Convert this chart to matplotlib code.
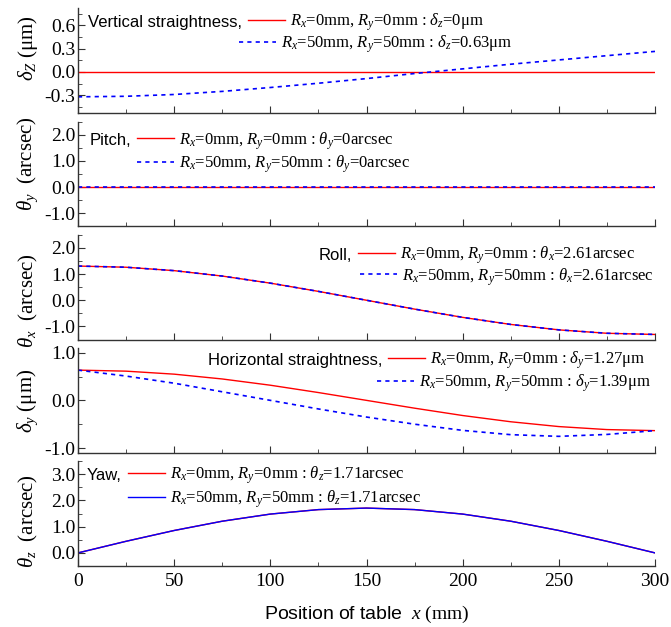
import matplotlib
matplotlib.use("Agg")
import matplotlib.pyplot as plt
from matplotlib.legend import Legend
from matplotlib.ticker import MultipleLocator, FormatStrFormatter

plt.rcParams['font.family'] = 'Liberation Serif'
plt.rcParams['mathtext.fontset'] = 'custom'
plt.rcParams['mathtext.rm'] = 'Liberation Serif'
plt.rcParams['mathtext.it'] = 'Liberation Serif:italic'
plt.rcParams['mathtext.sf'] = 'Liberation Sans'
plt.rcParams['axes.unicode_minus'] = False

# position of table x (mm)
x_pos = [0, 25, 50, 75, 100, 125, 150, 175, 200, 225, 250, 275, 300]

# vertical straightness (um)
vert_r0 = [0, 0, 0, 0, 0, 0, 0, 0, 0, 0, 0, 0, 0]
vert_r50 = [-0.32, -0.313, -0.29, -0.25, -0.20, -0.145, -0.085, -0.02, 0.04, 0.10, 0.155, 0.21, 0.265]
# pitch (arcsec)
pitch_r0 = [0, 0, 0, 0, 0, 0, 0, 0, 0, 0, 0, 0, 0]
pitch_r50 = [0, 0, 0, 0, 0, 0, 0, 0, 0, 0, 0, 0, 0]
# roll (arcsec)
roll_r0 = [1.305, 1.26, 1.13, 0.923, 0.653, 0.338, 0.0, -0.338, -0.653, -0.923, -1.13, -1.26, -1.305]
roll_r50 = [1.305, 1.26, 1.13, 0.923, 0.653, 0.338, 0.0, -0.338, -0.653, -0.923, -1.13, -1.26, -1.305]
# horizontal straightness (um)
horiz_r0 = [0.635, 0.613, 0.55, 0.449, 0.318, 0.164, 0.0, -0.164, -0.318, -0.449, -0.55, -0.613, -0.635]
horiz_r50 = [0.635, 0.51, 0.36, 0.18, 0.0, -0.18, -0.35, -0.50, -0.63, -0.72, -0.755, -0.715, -0.635]
# yaw (arcsec)
yaw_r0 = [0, 0.443, 0.855, 1.209, 1.481, 1.652, 1.71, 1.652, 1.481, 1.209, 0.855, 0.443, 0]
yaw_r50 = [0, 0.443, 0.855, 1.209, 1.481, 1.652, 1.71, 1.652, 1.481, 1.209, 0.855, 0.443, 0]

titles = ['Vertical straightness,', 'Pitch,', 'Roll,', 'Horizontal straightness,', 'Yaw,']
ylabels = [r'$\delta_Z$ (μm)', r'$\theta_y$  (arcsec)', r'$\theta_x$  (arcsec)',
           r'$\delta_y$ (μm)', r'$\theta_z$  (arcsec)']
labels_r0 = [r'$R_x$=0mm, $R_y$=0mm : $\delta_z$=0μm',
             r'$R_x$=0mm, $R_y$=0mm : $\theta_y$=0arcsec',
             r'$R_x$=0mm, $R_y$=0mm : $\theta_x$=2.61arcsec',
             r'$R_x$=0mm, $R_y$=0mm : $\delta_y$=1.27μm',
             r'$R_x$=0mm, $R_y$=0mm : $\theta_z$=1.71arcsec']
labels_r50 = [r'$R_x$=50mm, $R_y$=50mm : $\delta_z$=0.63μm',
              r'$R_x$=50mm, $R_y$=50mm : $\theta_y$=0arcsec',
              r'$R_x$=50mm, $R_y$=50mm : $\theta_x$=2.61arcsec',
              r'$R_x$=50mm, $R_y$=50mm : $\delta_y$=1.39μm',
              r'$R_x$=50mm, $R_y$=50mm : $\theta_z$=1.71arcsec']

series_r0 = [vert_r0, pitch_r0, roll_r0, horiz_r0, yaw_r0]
series_r50 = [vert_r50, pitch_r50, roll_r50, horiz_r50, yaw_r50]

# layout (pixels in the 671x627 picture)
W, H = 671, 627
ylims = [(-0.53, 0.82), (-1.5, 2.5), (-1.5, 2.5), (-1.1, 1.1), (-0.5, 3.5)]
ymajor = [0.3, 1.0, 1.0, 1.0, 1.0]
ylab_y = [0.62, 0.595, 0.37, 0.5, 0.43]
row1 = [(248, 22), (137, 140.7), (358, 255), (388, 360), (128, 475)]
row2 = [(239, 44.5), (137, 164), (360, 276.7), (377, 383.3), (128, 499.3)]
blue_style = ['dotted', 'dotted', 'dotted', 'dotted', 'solid']

fig, axes = plt.subplots(5, 1, figsize=(W / 100, H / 100), dpi=100, sharex=True)
fig.subplots_adjust(left=78 / W, right=655 / W, top=1 - 8.3 / H, bottom=1 - 566 / H, hspace=0.08)

for i, ax in enumerate(axes):
    l0, = ax.plot(x_pos, series_r0[i], color='#ff0000', lw=1.0)
    if blue_style[i] == 'dotted':
        l1, = ax.plot(x_pos, series_r50[i], color='#0000ff', lw=1.2, ls=(0, (2.5, 2.5)))
    else:
        l1, = ax.plot(x_pos, series_r50[i], color='#0000ff', lw=1.0)

    ax.set_xlim(0, 300)
    ax.set_ylim(*ylims[i])
    ax.xaxis.set_major_locator(MultipleLocator(50))
    ax.xaxis.set_minor_locator(MultipleLocator(25))
    ax.yaxis.set_major_locator(MultipleLocator(ymajor[i]))
    ax.yaxis.set_minor_locator(MultipleLocator(ymajor[i] / 2))
    ax.yaxis.set_major_formatter(FormatStrFormatter('%.1f'))
    ax.spines['top'].set_visible(False)
    ax.spines['right'].set_visible(False)
    for s in ['left', 'bottom']:
        ax.spines[s].set_color('#333333')
        ax.spines[s].set_linewidth(1.0)
    ax.tick_params(which='both', direction='in', colors='#333333', labelcolor='black', labelsize=14)
    ax.tick_params(which='major', length=5)
    ax.tick_params(which='minor', length=3)
    ax.tick_params(axis='y', pad=2)
    ax.tick_params(axis='x', pad=5)

    ax.set_ylabel(ylabels[i], fontsize=15)
    ax.yaxis.set_label_coords(-0.066, ylab_y[i])

    # legend rows, one legend per row
    for line, lab, (px, py) in [(l0, labels_r0[i], row1[i]), (l1, labels_r50[i], row2[i])]:
        leg = Legend(ax, [line], [lab], loc='center left', bbox_to_anchor=(px / W, 1 - py / H),
                     bbox_transform=fig.transFigure, frameon=False, borderpad=0, borderaxespad=0,
                     handlelength=2.2, handletextpad=0.3, fontsize=12)
        ax.add_artist(leg)
    fig.text((row1[i][0] - 6) / W, 1 - row1[i][1] / H, titles[i], ha='right', va='center',
             family='Liberation Sans', fontsize=12)

axes[-1].set_xlabel(r'$\mathsf{Position\ of\ table}$  $x$ (mm)', fontsize=14, labelpad=10)

fig.savefig('out.png', dpi=100)
